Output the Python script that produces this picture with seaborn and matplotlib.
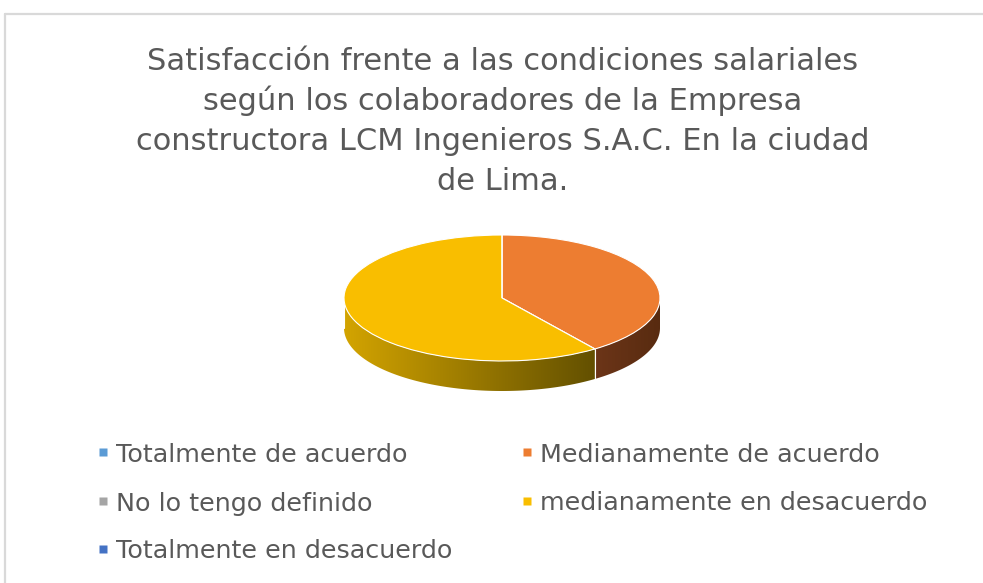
import numpy as np
import matplotlib
matplotlib.use('Agg')
import matplotlib.pyplot as plt
import seaborn as sns
from matplotlib.patches import Polygon
from matplotlib.colors import LinearSegmentedColormap
from matplotlib.lines import Line2D

sns.set_theme(style='white')
plt.rcParams['font.family'] = ['DejaVu Sans']

# data
categories = ['Totalmente de acuerdo', 'Medianamente de acuerdo', 'No lo tengo definido',
              'medianamente en desacuerdo', 'Totalmente en desacuerdo']
values = [0, 40, 0, 60, 0]
top_colors = ['#5B9BD5', '#ED7D31', '#A5A5A5', '#F9BE00', '#4472C4']
side_colors = [('#3a6a96', '#2a4f70'), ('#6c3518', '#582b10'), ('#707070', '#505050'),
               ('#d3a400', '#635000'), ('#2c4f8a', '#203a66')]
title_lines = ['Satisfacción frente a las condiciones salariales',
               'según los colaboradores de la Empresa',
               'constructora LCM Ingenieros S.A.C. En la ciudad',
               'de Lima.']

W, H = 983, 583
fig = plt.figure(figsize=(W / 100, H / 100), dpi=100)

# chart border (top and left only visible)
fig.add_artist(Line2D([5 / W, 5 / W], [0, 1 - 14 / H], transform=fig.transFigure, color='#d9d9d9', lw=1.6))
fig.add_artist(Line2D([5 / W, 1], [1 - 14 / H, 1 - 14 / H], transform=fig.transFigure, color='#d9d9d9', lw=1.6))

for k, line in enumerate(title_lines):
    fig.text(503 / W, 1 - (70 + 40 * k) / H, line, ha='center', va='baseline',
             fontsize=22, color='#595959')

# pie geometry in pixels
cx, cy, rx, ry, depth_px = 502, 298, 158, 63, 30
pad = 1.1
depth = depth_px / ry
ax_w = 2 * pad * rx
ax_h = (2 * pad + depth) * ry
left = cx - pad * rx
bottom = H - (cy + (pad + depth) * ry)
ax = fig.add_axes([left / W, bottom / H, ax_w / W, ax_h / H])

wedges, _ = ax.pie(values, colors=top_colors, startangle=90, counterclock=False,
                   wedgeprops=dict(edgecolor='white', linewidth=0.8), radius=1)
ax.set_aspect('auto')
ax.axis('off')


def visible_range(t1, t2):
    # part of the wedge on the front (lower) half of the disc
    for shift in (-360, 0, 360):
        a, b = max(t1 + shift, 180), min(t2 + shift, 360)
        if b > a:
            return a, b
    return None


for w, (c1, c2) in zip(wedges, side_colors):
    rng = visible_range(w.theta1, w.theta2)
    if rng is None:
        continue
    th = np.radians(np.linspace(rng[0], rng[1], 100))
    xs, ys = np.cos(th), np.sin(th)
    pts = np.vstack([np.column_stack([xs, ys]), np.column_stack([xs[::-1], ys[::-1] - depth])])
    poly = Polygon(pts, closed=True, facecolor='none', edgecolor='none', zorder=0)
    ax.add_patch(poly)
    cmap = LinearSegmentedColormap.from_list('side', [c1, c2])
    grad = np.linspace(0, 1, 256).reshape(1, -1)
    im = ax.imshow(grad, cmap=cmap, aspect='auto', zorder=0.5,
                   extent=[xs.min(), xs.max(), ys.min() - depth, ys.max()])
    im.set_clip_path(poly)
    ax.plot([xs[0], xs[0]], [ys[0], ys[0] - depth], color='white', lw=0.8, zorder=0.6)

ax.set_xlim(-pad, pad)
ax.set_ylim(-pad - depth, pad)
for w in wedges:
    w.set_zorder(2)

# legend, two entries per row
col_x = [103, 527]
row_y = [452, 501, 549]
for i, (lab, col) in enumerate(zip(categories, top_colors)):
    x, y = col_x[i % 2], row_y[i // 2]
    fig.add_artist(Line2D([x / W], [1 - y / H], marker='s', markersize=6, linestyle='none',
                          markerfacecolor=col, markeredgecolor='none', transform=fig.transFigure))
    fig.text((x + 13) / W, 1 - (y + 9.5) / H, lab, ha='left', va='baseline',
             fontsize=18.3, color='#595959')

fig.savefig('out.png', dpi=100, facecolor='white')
